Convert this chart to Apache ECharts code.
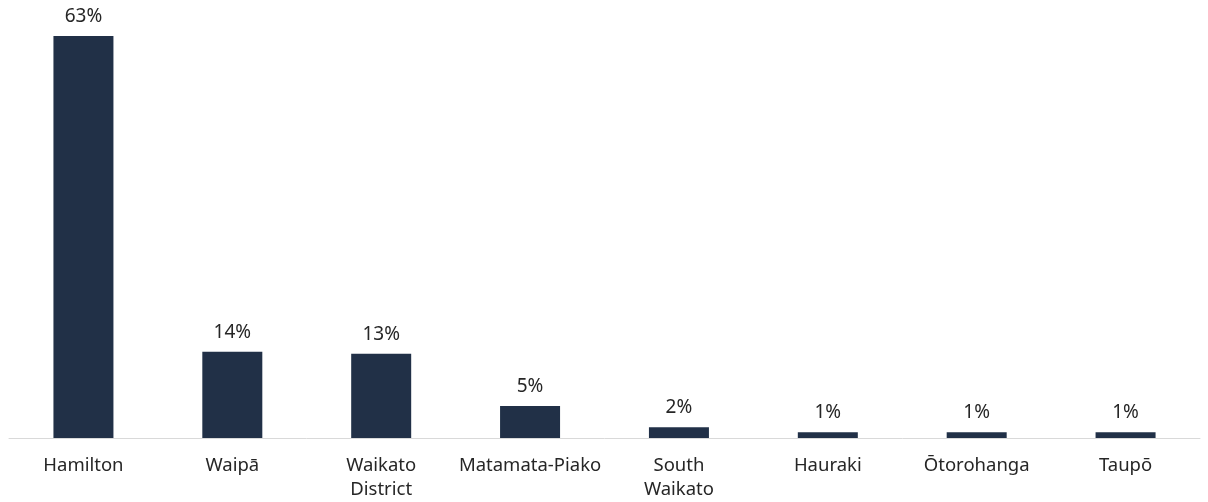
<!DOCTYPE html>
<html>
<head>
<meta charset="utf-8">
<script src="https://cdn.jsdelivr.net/npm/echarts@6/dist/echarts.min.js"></script>
<style>
  html, body { margin: 0; padding: 0; background: #fff; }
  #chart { width: 1208px; height: 502px; }
</style>
</head>
<body>
<div id="chart"></div>
<script>
  // share of total by district (%)
  const categories = ['Hamilton', 'Waipā', 'Waikato\nDistrict', 'Matamata-Piako', 'South\nWaikato', 'Hauraki', 'Ōtorohanga', 'Taupō'];
  const shares = [63, 13.5, 13.2, 5.0, 1.7, 0.9, 0.9, 0.9];
  const shareLabels = ['63%', '14%', '13%', '5%', '2%', '1%', '1%', '1%'];

  let chart = echarts.init(document.getElementById('chart'));

  let option = {
    animation: false,
    textStyle: { fontFamily: 'Noto Sans' },
    grid: { top: 36, left: 9, right: 8, bottom: 64 },
    xAxis: {
      type: 'category',
      data: categories,
      axisLine: { lineStyle: { color: '#d9d9d9', width: 1 } },
      axisTick: { show: false },
      axisLabel: {
        interval: 0,
        color: '#262626',
        fontSize: 18.5,
        lineHeight: 24,
        margin: 16
      }
    },
    yAxis: {
      type: 'value',
      min: 0,
      max: 63,
      show: false,
      splitLine: { show: false }
    },
    series: [{
      type: 'bar',
      data: shares,
      barWidth: 60,
      itemStyle: { color: '#213047' },
      label: {
        show: true,
        position: 'top',
        distance: 10,
        color: '#262626',
        fontSize: 19,
        formatter: p => shareLabels[p.dataIndex]
      }
    }]
  };

  chart.setOption(option);
</script>
</body>
</html>
